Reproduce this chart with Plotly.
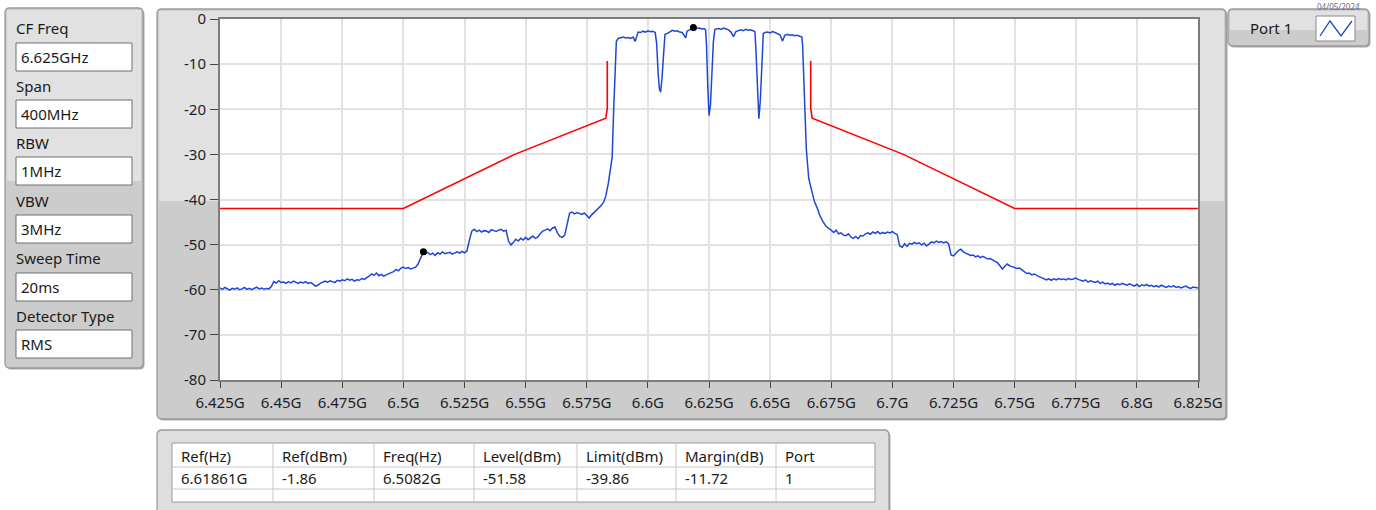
import plotly.graph_objects as go

# ---------------- data ----------------
x_tick_vals = [6.425, 6.45, 6.475, 6.5, 6.525, 6.55, 6.575, 6.6, 6.625, 6.65, 6.675, 6.7, 6.725, 6.75, 6.775, 6.8, 6.825]
x_tick_text = ["6.425G", "6.45G", "6.475G", "6.5G", "6.525G", "6.55G", "6.575G", "6.6G", "6.625G", "6.65G",
               "6.675G", "6.7G", "6.725G", "6.75G", "6.775G", "6.8G", "6.825G"]
y_tick_vals = [0, -10, -20, -30, -40, -50, -60, -70, -80]
y_tick_text = ["0", "-10", "-20", "-30", "-40", "-50", "-60", "-70", "-80"]

# spectral emission limit mask (GHz, dBm); None = gap
limit_freq = [6.425, 6.500, 6.5455, 6.5828, 6.5834, 6.5834, None, 6.6666, 6.6666, 6.6672, 6.7045, 6.750, 6.825]
limit_dbm = [-42.0, -42.0, -30.0, -22.0, -19.8, -9.3, None, -9.3, -19.8, -22.0, -30.0, -42.0, -42.0]

# measured trace, lower skirt (GHz, dBm)
trace_lower = [
    (6.425, -59.6), (6.426, -59.9), (6.427, -59.5), (6.428, -59.8), (6.429, -60.1), (6.430, -59.7), (6.431, -59.9),
    (6.432, -59.6), (6.433, -60.0), (6.434, -59.8), (6.435, -59.5), (6.436, -59.9), (6.437, -59.7), (6.438, -60.0),
    (6.439, -59.6), (6.440, -59.4), (6.441, -59.8), (6.442, -59.6), (6.443, -59.9), (6.444, -59.7), (6.445, -59.8),
    (6.446, -59.3), (6.447, -58.2), (6.448, -58.5), (6.449, -58.0), (6.450, -58.4), (6.451, -58.3), (6.452, -58.6),
    (6.453, -58.2), (6.454, -58.5), (6.455, -58.1), (6.456, -58.4), (6.457, -58.6), (6.458, -58.3), (6.459, -58.5),
    (6.460, -58.2), (6.461, -58.6), (6.462, -58.4), (6.463, -58.7), (6.464, -59.2), (6.465, -59.0), (6.466, -58.6),
    (6.467, -58.4), (6.468, -58.1), (6.469, -58.3), (6.470, -58.0), (6.471, -58.2), (6.472, -58.4), (6.473, -57.9),
    (6.474, -58.1), (6.475, -57.8), (6.476, -58.0), (6.477, -57.6), (6.478, -57.9), (6.479, -57.7), (6.480, -58.1),
    (6.481, -57.8), (6.482, -57.9), (6.483, -57.5), (6.484, -57.7), (6.485, -57.3), (6.486, -57.0), (6.487, -56.5),
    (6.488, -56.8), (6.489, -56.3), (6.490, -56.9), (6.491, -56.6), (6.492, -57.0), (6.493, -56.7), (6.494, -56.4),
    (6.495, -56.2), (6.496, -56.0), (6.497, -55.5), (6.498, -55.8), (6.499, -55.2), (6.500, -55.0), (6.501, -55.3),
    (6.502, -55.1), (6.503, -55.4), (6.504, -55.2), (6.505, -55.0), (6.506, -54.3), (6.507, -53.0), (6.5082, -51.58),
    (6.509, -52.0), (6.510, -51.7), (6.511, -52.2), (6.512, -51.9), (6.513, -52.4), (6.514, -51.8), (6.515, -52.1),
    (6.516, -51.6), (6.517, -52.0), (6.518, -51.9), (6.519, -51.7), (6.520, -52.1), (6.521, -51.8), (6.522, -51.6),
    (6.523, -51.9), (6.524, -51.5), (6.525, -51.8), (6.526, -51.4), (6.527, -49.0), (6.528, -47.0), (6.529, -46.6),
    (6.530, -47.1), (6.531, -46.8), (6.532, -47.2), (6.533, -46.9), (6.534, -47.0), (6.535, -47.3), (6.536, -46.7),
    (6.537, -46.9), (6.538, -47.1), (6.539, -46.8), (6.540, -46.6), (6.541, -47.0), (6.542, -46.8), (6.543, -49.2),
    (6.544, -50.1), (6.545, -49.5), (6.546, -48.8), (6.547, -49.2), (6.548, -48.6), (6.549, -49.0), (6.550, -48.4),
    (6.551, -48.9), (6.552, -48.5), (6.553, -48.1), (6.554, -48.6), (6.555, -48.3), (6.556, -47.6), (6.557, -47.0),
    (6.558, -46.8), (6.559, -46.5), (6.560, -46.9), (6.561, -46.3), (6.562, -46.1), (6.563, -47.4), (6.564, -48.2),
    (6.565, -48.4), (6.566, -47.9), (6.567, -45.0), (6.568, -43.0), (6.569, -42.8), (6.570, -43.2), (6.571, -42.9),
    (6.572, -43.1), (6.573, -43.3), (6.574, -43.0), (6.575, -43.5), (6.576, -44.1), (6.577, -43.4), (6.578, -42.9),
    (6.579, -42.4), (6.580, -42.0), (6.581, -41.3), (6.582, -40.5), (6.5828, -39.2),
]

# measured trace, occupied band (GHz, dBm)
trace_band = [
    (6.5838, -36.5), (6.5846, -33.0), (6.5854, -30.6), (6.5860, -20.3), (6.5865, -12.2), (6.5871, -5.0),
    (6.5878, -4.3), (6.589, -4.1), (6.590, -4.0), (6.591, -4.2), (6.592, -4.1), (6.593, -4.3), (6.594, -4.0),
    (6.5948, -5.0), (6.5955, -3.6), (6.596, -2.9), (6.597, -3.0), (6.598, -2.7), (6.599, -2.9), (6.600, -2.6),
    (6.601, -2.8), (6.602, -2.7), (6.603, -3.0), (6.6036, -5.5), (6.6042, -12.0), (6.6047, -15.5), (6.6052, -16.2),
    (6.6058, -13.0), (6.6064, -8.0), (6.6070, -3.4), (6.608, -3.2), (6.609, -2.8), (6.610, -2.5), (6.611, -2.7),
    (6.612, -2.6), (6.613, -2.9), (6.614, -3.0), (6.6155, -4.2), (6.616, -2.7), (6.617, -2.4), (6.618, -2.2),
    (6.61861, -1.86), (6.619, -2.0), (6.620, -2.1), (6.621, -2.0), (6.622, -2.2), (6.623, -2.1), (6.6236, -2.4),
    (6.6240, -6.0), (6.6245, -15.0), (6.6250, -21.4), (6.6256, -19.0), (6.6262, -12.0), (6.6268, -5.0),
    (6.6274, -2.3), (6.628, -2.2), (6.629, -2.1), (6.630, -2.3), (6.631, -2.0), (6.632, -2.2), (6.633, -2.4),
    (6.634, -2.9), (6.635, -3.9), (6.636, -2.8), (6.637, -2.6), (6.638, -2.4), (6.639, -2.6), (6.640, -2.3),
    (6.641, -2.5), (6.642, -2.4), (6.643, -2.6), (6.6438, -2.8), (6.6442, -7.0), (6.6448, -14.0), (6.6454, -22.1),
    (6.6460, -18.0), (6.6466, -9.0), (6.6472, -3.2), (6.648, -3.0), (6.649, -2.9), (6.650, -3.1), (6.651, -2.8),
    (6.652, -3.0), (6.653, -3.3), (6.654, -3.5), (6.6551, -4.9), (6.656, -3.6), (6.657, -3.4), (6.658, -3.6),
    (6.659, -3.5), (6.660, -3.7), (6.661, -3.6), (6.662, -3.8), (6.663, -4.0), (6.6633, -6.0), (6.6636, -11.4),
    (6.6642, -19.2), (6.6648, -28.8), (6.6658, -35.4), (6.6670, -38.0), (6.6681, -40.4), (6.6695, -42.2),
    (6.6702, -43.4), (6.6716, -44.9), (6.6730, -46.0), (6.6745, -46.6),
]

# measured trace, upper skirt: 1 MHz spaced readings starting at 6.675 GHz
upper_start_ghz = 6.675
upper_step_ghz = 0.001
trace_upper_dbm = [
    -46.9, -47.3, -46.8, -47.6, -47.4, -47.9, -48.0, -47.6, -48.3, -48.6, -48.2, -48.7, -48.0, -48.1, -47.6, -47.4,
    -47.7, -47.2, -47.5, -47.1, -47.6, -47.3, -47.5, -47.2, -47.4, -47.1, -47.5, -47.8,
    -50.3, -50.6, -49.8, -50.4, -49.7, -49.9, -49.5, -49.8, -49.6, -50.1, -49.7, -50.3, -49.9, -49.4, -49.6, -49.2,
    -49.5, -49.3, -49.6, -49.4, -49.8,
    -52.3, -52.5, -51.8, -51.3, -51.0, -51.6, -51.9, -52.1, -52.4, -52.3, -52.7, -52.5, -52.9, -52.6, -53.0, -53.2,
    -53.1, -53.5, -53.7, -54.0, -54.6, -55.4, -54.8, -54.3, -54.7, -54.9, -55.0, -55.3, -55.2, -55.6, -56.2, -56.4,
    -56.3, -56.7, -56.5, -56.9, -57.1, -57.3, -57.5, -57.8, -57.6, -57.9, -57.6, -57.8, -57.5, -57.7, -57.6, -57.8,
    -57.5, -57.7, -57.6, -57.4, -57.7, -57.9, -58.1, -57.8, -58.3, -58.0, -58.2, -58.4, -58.1, -58.6, -58.3, -58.7,
    -58.5, -58.8, -58.6, -59.0, -58.7, -58.9, -58.6, -58.8, -59.0, -58.7, -58.9, -59.2, -58.8, -59.3, -58.9, -59.1,
    -58.8, -59.2, -59.0, -59.3, -59.1, -59.4, -59.0, -59.3, -59.5, -59.2, -59.4, -59.1, -59.5, -59.3, -59.6, -59.4,
    -59.2, -59.5, -59.7, -59.4, -59.5, -59.6,
]

marker_freq = [6.61861, 6.5082]
marker_dbm = [-1.86, -51.58]

settings_labels = ["CF Freq", "Span", "RBW", "VBW", "Sweep Time", "Detector Type"]
settings_values = ["6.625GHz", "400MHz", "1MHz", "3MHz", "20ms", "RMS"]

table_header = ["Ref(Hz)", "Ref(dBm)", "Freq(Hz)", "Level(dBm)", "Limit(dBm)", "Margin(dB)", "Port"]
table_row = ["6.61861G", "-1.86", "6.5082G", "-51.58", "-39.86", "-11.72", "1"]

legend_name = "Port 1"
date_text = "04/05/2024"

# ---------------- layout helpers ----------------
W, H = 1376, 510
FONT = "Noto Sans, Segoe UI, sans-serif"


def X(px):
    return px / W


def Y(py):
    return 1 - py / H


def rrect_path(x0, y0, x1, y1, r):
    pts = [
        f"M{X(x0 + r)},{Y(y0)}", f"L{X(x1 - r)},{Y(y0)}", f"Q{X(x1)},{Y(y0)} {X(x1)},{Y(y0 + r)}",
        f"L{X(x1)},{Y(y1 - r)}", f"Q{X(x1)},{Y(y1)} {X(x1 - r)},{Y(y1)}",
        f"L{X(x0 + r)},{Y(y1)}", f"Q{X(x0)},{Y(y1)} {X(x0)},{Y(y1 - r)}",
        f"L{X(x0)},{Y(y0 + r)}", f"Q{X(x0)},{Y(y0)} {X(x0 + r)},{Y(y0)}", "Z",
    ]
    return " ".join(pts)


shapes = []
annotations = []


def panel(x0, y0, x1, y1, split, light="#e1e1e1", dark="#cccccc"):
    shapes.append(dict(type="path", path=rrect_path(x0 + 1.5, y0 + 1.5, x1 + 1.5, y1 + 1.5, 5),
                       xref="paper", yref="paper", fillcolor="#a9a9a9", line=dict(width=0), layer="below"))
    shapes.append(dict(type="path", path=rrect_path(x0, y0, x1, y1, 5),
                       xref="paper", yref="paper", fillcolor=dark, line=dict(width=0), layer="below"))
    shapes.append(dict(type="rect", x0=X(x0 + 2), x1=X(x1 - 2), y0=Y(split), y1=Y(y0 + 2),
                       xref="paper", yref="paper", fillcolor=light, line=dict(width=0), layer="below"))
    shapes.append(dict(type="path", path=rrect_path(x0, y0, x1, y1, 5),
                       xref="paper", yref="paper", fillcolor="rgba(0,0,0,0)",
                       line=dict(color="#9a9a9a", width=1.3), layer="below"))


def rect(x0, y0, x1, y1, fill, line_color=None, lw=1):
    shapes.append(dict(type="rect", x0=X(x0), x1=X(x1), y0=Y(y1), y1=Y(y0), xref="paper", yref="paper",
                       fillcolor=fill, line=dict(color=line_color or fill, width=lw if line_color else 0),
                       layer="below"))


def hline(x0, x1, y, color, w=1):
    shapes.append(dict(type="line", x0=X(x0), x1=X(x1), y0=Y(y), y1=Y(y), xref="paper", yref="paper",
                       line=dict(color=color, width=w), layer="below"))


def vline(x, y0, y1, color, w=1):
    shapes.append(dict(type="line", x0=X(x), x1=X(x), y0=Y(y0), y1=Y(y1), xref="paper", yref="paper",
                       line=dict(color=color, width=w), layer="below"))


def text(x, y, s, size=15, color="#1a1a1a", xanchor="left", yanchor="middle"):
    annotations.append(dict(x=X(x), y=Y(y), xref="paper", yref="paper", text=s, showarrow=False,
                            xanchor=xanchor, yanchor=yanchor, borderpad=0,
                            font=dict(family=FONT, size=size, color=color)))


# left settings panel
panel(5, 8, 143, 368, 181)
label_y = [28, 86, 143, 201, 258, 316]
box_top = [43, 100, 157, 215, 273, 330]
for lab, val, ly, bt in zip(settings_labels, settings_values, label_y, box_top):
    text(15, ly, lab)
    rect(16, bt, 132, bt + 28, "#ffffff", "#6f6f6f", 1)
    text(20, bt + 14, val)

# main graph panel
panel(157, 9, 1226, 419, 201)
rect(220, 19, 1198, 380, "#ffffff")

# legend panel
panel(1228, 9, 1369, 46, 30)
text(1249, 28, legend_name)
rect(1316, 16, 1355, 41, "#ffffff", "#8a8a8a", 1)
shapes.append(dict(type="path", xref="paper", yref="paper", layer="above",
                   path=f"M{X(1320)},{Y(36)} L{X(1330)},{Y(21)} L{X(1341)},{Y(36)} L{X(1352)},{Y(21)}",
                   line=dict(color="#1f47d6", width=1.3)))

# table panel
panel(157, 430, 889, 530, 515, light="#dedede", dark="#dedede")
rect(172, 443, 875, 502, "#ffffff", "#9a9a9a", 1)
col_x = [172, 273, 374, 474, 577, 676, 776]
for cx in col_x[1:]:
    vline(cx, 443, 502, "#c8c8c8", 1)
hline(172, 875, 467, "#c8c8c8", 1)
hline(172, 875, 489, "#c8c8c8", 1)
for cx, hdr, val in zip(col_x, table_header, table_row):
    text(cx + 8, 456, hdr)
    text(cx + 8, 478, val)

# small date text at the top right corner
text(1338, 0, date_text, size=8, color="#6a6a8a", xanchor="center", yanchor="top")

# ---------------- figure ----------------
trace_f = [p[0] for p in trace_lower] + [p[0] for p in trace_band] + \
          [upper_start_ghz + i * upper_step_ghz for i in range(len(trace_upper_dbm))]
trace_db = [p[1] for p in trace_lower] + [p[1] for p in trace_band] + trace_upper_dbm

fig = go.Figure()
fig.add_trace(go.Scatter(x=limit_freq, y=limit_dbm, mode="lines", connectgaps=False,
                         line=dict(color="#ff0000", width=1.6), showlegend=False, hoverinfo="skip"))
fig.add_trace(go.Scatter(x=trace_f, y=trace_db, mode="lines",
                         line=dict(color="#1f47d6", width=1.5), showlegend=False))
fig.add_trace(go.Scatter(x=marker_freq, y=marker_dbm, mode="markers",
                         marker=dict(color="#000000", size=7), showlegend=False))

axis_font = dict(family=FONT, size=15, color="#1e1e2a")
fig.update_layout(
    template="none",
    width=W, height=H, autosize=False,
    margin=dict(l=0, r=0, t=0, b=0, pad=0, autoexpand=False),
    paper_bgcolor="#ffffff", plot_bgcolor="rgba(0,0,0,0)",
    shapes=shapes, annotations=annotations,
    xaxis=dict(domain=[X(220), X(1198)], range=[6.425, 6.825], tickvals=x_tick_vals, ticktext=x_tick_text,
               showgrid=True, gridcolor="#e2e2e2", gridwidth=2, zeroline=False, automargin=False,
               showline=True, linecolor="#7c7c7c", linewidth=2, mirror=True,
               ticks="outside", ticklen=6, tickwidth=1.3, tickcolor="#444444", tickfont=axis_font,
               ticklabelstandoff=2),
    yaxis=dict(domain=[Y(380), Y(19)], range=[-80, 0], tickvals=y_tick_vals, ticktext=y_tick_text,
               showgrid=True, gridcolor="#e2e2e2", gridwidth=2, zeroline=False, automargin=False,
               showline=True, linecolor="#7c7c7c", linewidth=2, mirror=True,
               ticks="outside", ticklen=8, tickwidth=1.3, tickcolor="#444444", tickfont=axis_font,
               ticklabelstandoff=1),
    showlegend=False,
)

fig.write_html("out.html", config={"displayModeBar": False},
               post_script="document.body.style.margin='0';document.body.style.overflow='hidden';")
